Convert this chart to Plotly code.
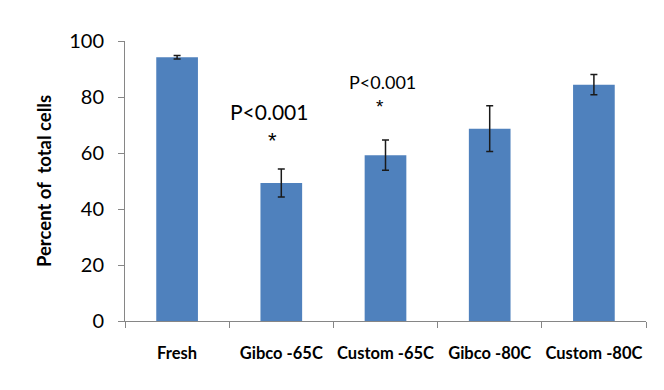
import plotly.graph_objects as go

categories = ["Fresh", "Gibco -65C", "Custom -65C", "Gibco -80C", "Custom -80C"]
values = [94.2, 49.3, 59.2, 68.7, 84.4]
errors = [0.6, 5.0, 5.4, 8.2, 3.6]
y_ticks = [0, 20, 40, 60, 80, 100]

annot_text = "P<0.001"
annot_cats = ["Gibco -65C", "Custom -65C"]

FONT = "Lato, Carlito, Calibri, sans-serif"
STAR = "Liberation Sans, Arial, sans-serif"
BAR = "#4F81BD"
AXIS = "#868686"

fig = go.Figure()
fig.add_trace(go.Bar(
    x=categories, y=values,
    marker=dict(color=BAR, line=dict(width=0)),
    width=0.4,
    error_y=dict(type="data", array=errors, visible=True,
                 color="#1a1a1a", thickness=1.5, width=3.5),
))

# significance annotations
fig.add_annotation(x=annot_cats[0], y=75, text=annot_text, showarrow=False,
                   xshift=-12, font=dict(family=FONT, size=21, color="black"))
fig.add_annotation(x=annot_cats[0], y=64.5, text="*", showarrow=False,
                   xshift=-9, font=dict(family=STAR, size=22, color="black"))
fig.add_annotation(x=annot_cats[1], y=85.5, text=annot_text, showarrow=False,
                   xshift=-3, font=dict(family=FONT, size=18, color="black"))
fig.add_annotation(x=annot_cats[1], y=76.5, text="*", showarrow=False,
                   xshift=-6, font=dict(family=STAR, size=19, color="black"))

# page body has an 8px margin, so the figure is sized to fit the window
fig.update_layout(
    width=648, height=374,
    margin=dict(l=117, r=10, t=33, b=61, autoexpand=False),
    paper_bgcolor="white", plot_bgcolor="white",
    showlegend=False,
    font=dict(family=FONT, color="black"),
    xaxis=dict(
        type="category", automargin=False, tickangle=0,
        showline=True, linecolor=AXIS, linewidth=1,
        ticks="outside", tickson="boundaries", ticklen=6, tickcolor=AXIS,
        tickfont=dict(family=FONT, size=16.5, color="black"),
        ticklabelstandoff=17,
        tickvals=categories,
        ticktext=["<b>%s</b>" % c for c in categories],
        showgrid=False, zeroline=False,
    ),
    yaxis=dict(
        automargin=False,
        range=[0, 100], tickvals=y_ticks,
        showline=True, linecolor=AXIS, linewidth=1,
        ticks="outside", ticklen=6, tickcolor=AXIS,
        ticklabelstandoff=10,
        tickfont=dict(family=FONT, size=20, color="black"),
        showgrid=False, zeroline=False,
        title=dict(text="<b>Percent of  total cells</b>",
                   font=dict(family=FONT, size=18.5, color="black"), standoff=12),
    ),
)

fig.write_html("out.html")
